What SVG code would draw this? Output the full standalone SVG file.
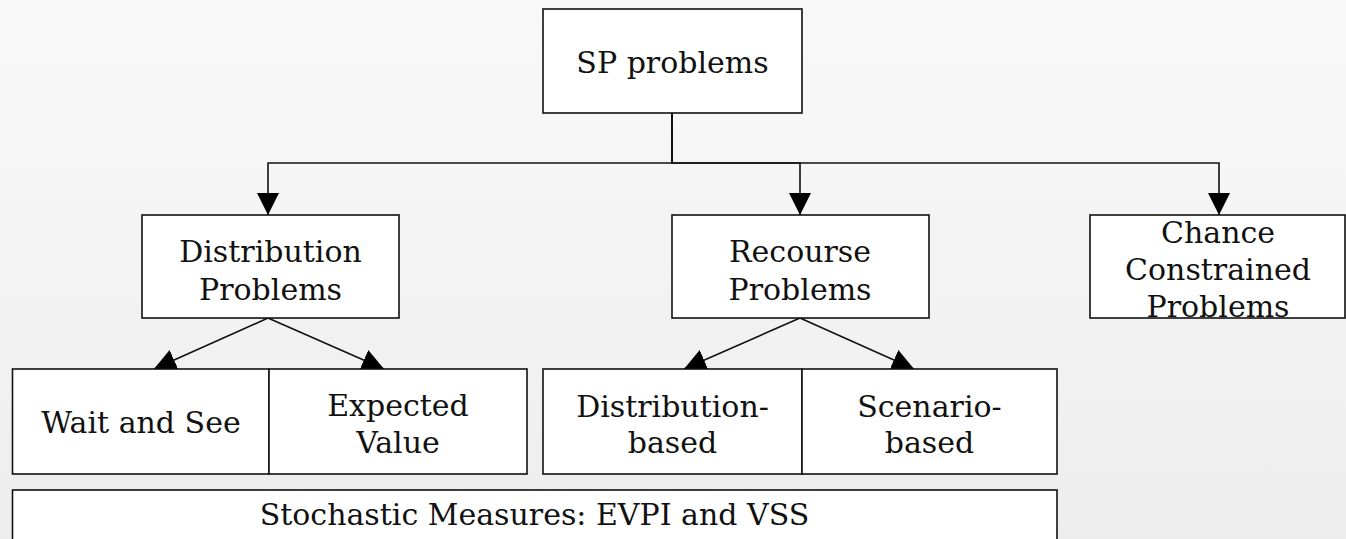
<svg xmlns="http://www.w3.org/2000/svg" width="1346" height="539" viewBox="0 0 1346 539">
<style>
.box{fill:#ffffff;stroke:#111111;stroke-width:1.6}
.lbl{font-family:"DejaVu Serif","Liberation Serif",serif;font-size:30px;fill:#111111;text-anchor:middle}
.con{fill:none;stroke:#111111;stroke-width:1.6}
</style>
<defs>
<linearGradient id="bg" x1="0" y1="0" x2="0" y2="1">
<stop offset="0" stop-color="#f9f9f9"/>
<stop offset="1" stop-color="#ededed"/>
</linearGradient>
<marker id="ah" viewBox="0 0 22 22" refX="22" refY="11" markerWidth="22" markerHeight="22" markerUnits="userSpaceOnUse" orient="auto">
<path d="M0,0 L22,11 L0,22 z" fill="#000000"/>
</marker>
</defs>
<rect x="0" y="0" width="1346" height="539" fill="url(#bg)"/>
<g id="connectors">
<path class="con" d="M672,113 V163 H268 V215" marker-end="url(#ah)"/>
<path class="con" d="M672,113 V163 H800 V215" marker-end="url(#ah)"/>
<path class="con" d="M672,113 V163 H1219 V215" marker-end="url(#ah)"/>
<path class="con" d="M268,318 L154,369" marker-end="url(#ah)"/>
<path class="con" d="M268,318 L384,369" marker-end="url(#ah)"/>
<path class="con" d="M800,318 L684,369" marker-end="url(#ah)"/>
<path class="con" d="M800,318 L914,369" marker-end="url(#ah)"/>
</g>
<g id="sp">
<rect class="box" x="543" y="9" width="259" height="104"/>
<text class="lbl" x="672.5" y="73">SP problems</text>
</g>
<g id="distribution">
<rect class="box" x="142" y="215" width="257" height="103"/>
<text class="lbl" x="270.5" y="262">Distribution</text>
<text class="lbl" x="270.5" y="300">Problems</text>
</g>
<g id="recourse">
<rect class="box" x="672" y="215" width="257" height="103"/>
<text class="lbl" x="800" y="262">Recourse</text>
<text class="lbl" x="800" y="300">Problems</text>
</g>
<g id="chance">
<rect class="box" x="1090" y="215" width="255" height="103"/>
<text class="lbl" x="1218" y="243">Chance</text>
<text class="lbl" x="1218" y="280">Constrained</text>
<text class="lbl" x="1218" y="317">Problems</text>
</g>
<g id="waitandsee">
<rect class="box" x="12.5" y="369" width="256.5" height="105"/>
<text class="lbl" x="141" y="433">Wait and See</text>
</g>
<g id="expectedvalue">
<rect class="box" x="269" y="369" width="258" height="105"/>
<text class="lbl" x="398" y="416">Expected</text>
<text class="lbl" x="398" y="453">Value</text>
</g>
<g id="distributionbased">
<rect class="box" x="543" y="369" width="259" height="105"/>
<text class="lbl" x="672.5" y="416.5">Distribution-</text>
<text class="lbl" x="672.5" y="453">based</text>
</g>
<g id="scenariobased">
<rect class="box" x="802" y="369" width="255" height="105"/>
<text class="lbl" x="929.5" y="416.5">Scenario-</text>
<text class="lbl" x="929.5" y="453">based</text>
</g>
<g id="stochastic">
<rect class="box" x="12.5" y="490" width="1044.5" height="70"/>
<text class="lbl" x="534.5" y="525">Stochastic Measures: EVPI and VSS</text>
</g>
</svg>
